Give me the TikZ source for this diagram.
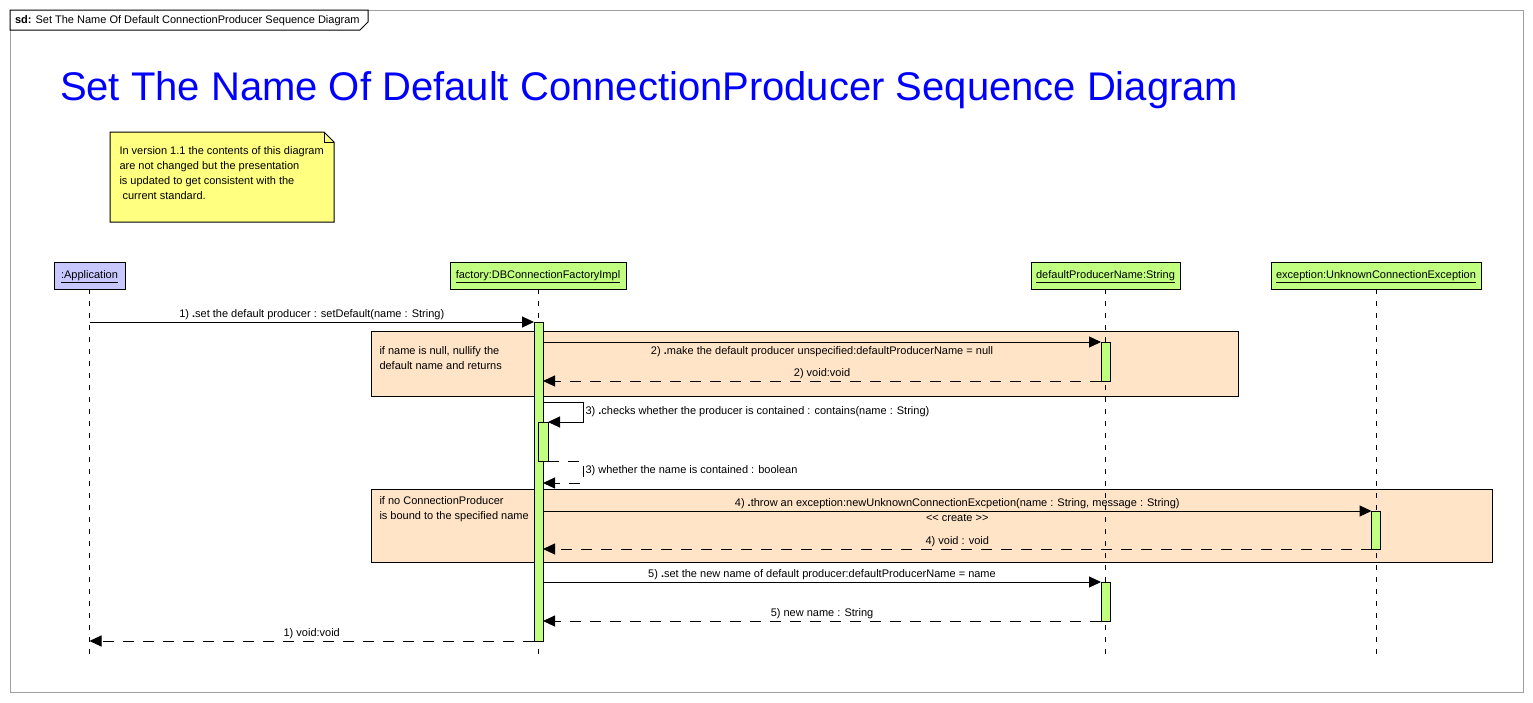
\documentclass[tikz,border=0pt]{standalone}
\usepackage{fontspec}
\setmainfont{Liberation Sans}
\usetikzlibrary{positioning,arrows.meta,calc}
\definecolor{lifeblue}{HTML}{C8C8FF}
\definecolor{lifegreen}{HTML}{C0FF80}
\definecolor{fragpeach}{HTML}{FFE4C8}
\definecolor{noteyellow}{HTML}{FFFF80}
\definecolor{framegray}{HTML}{A0A0A0}

\begin{document}
\begin{tikzpicture}[x=1pt, y=-1pt, line width=1pt, >={Triangle[length=12pt,width=11pt]},
  every node/.style={font=\fontsize{11}{13}\selectfont, inner sep=1.5pt},
  lifehead/.style={draw, minimum height=27pt, inner sep=0pt, outer sep=0pt, text height=8pt, text depth=2pt},
  actbar/.style={draw, fill=lifegreen, minimum width=9pt, inner sep=0pt, outer sep=0pt},
  lifeline/.style={dash pattern=on 5pt off 7pt},
  msg/.style={->},
  ret/.style={->, dash pattern=on 11pt off 9pt},
  frag/.style={draw, fill=fragpeach},
  fragtext/.style={anchor=north west, align=left, font=\fontsize{11}{15}\selectfont, inner sep=0pt}]
  \useasboundingbox (0,0) rectangle (1533,702);
  % frame and title
  \draw[framegray] (10,10) rectangle (1523,692);
  \draw[fill=white] (10,10) -- (368,10) -- (368,22) -- (360,30) -- (10,30) -- cycle;
  \node[anchor=west] (sdlabel) at (13,21) {\textbf{sd:} Set The Name Of Default ConnectionProducer Sequence Diagram};
  \node[anchor=west, text=blue, font=\fontsize{40}{44}\selectfont] (title) at (58,90)
      {Set The Name Of Default ConnectionProducer Sequence Diagram};
  % note
  \draw[fill=noteyellow] (110,132) -- (324,132) -- (334,142) -- (334,222) -- (110,222) -- cycle;
  \draw (324,132) -- (324,142) -- (334,142);
  \node[fragtext] (note) at (119,146.5) {In version 1.1 the contents of this diagram\\
      are not changed but the presentation\\is updated to get consistent with the\\\ current standard.};
  % combined fragments
  \draw[frag] (371,331) rectangle (1238,396);
  \node[fragtext] (guard1) at (379,346.5) {if name is null, nullify the\\default name and returns};
  \draw[frag] (371,489) rectangle (1492,562);
  \node[fragtext] (guard2) at (379,496) {if no ConnectionProducer\\is bound to the specified name};
  % lifeline heads
  \node[lifehead, fill=lifeblue, minimum width=71pt] (app) at (89.5,275.5) {\underline{:Application}};
  \node[lifehead, fill=lifegreen, minimum width=176pt] (factory) at (538,275.5) {\underline{factory:DBConnectionFactoryImpl}};
  \node[lifehead, fill=lifegreen, minimum width=149pt] (defname) at (1105.5,275.5) {\underline{defaultProducerName:String}};
  \node[lifehead, fill=lifegreen, minimum width=210pt] (exc) at (1376,275.5) {\underline{exception:UnknownConnectionException}};
  % lifelines
  \foreach \h in {app,factory,defname,exc}
    \draw[lifeline] (\h.south) -- (\h.south |- 0,657);
  % activation bars
  \node[actbar, minimum height=319pt] (factbar) at (538.5,481.5) {};
  \node[actbar, minimum height=39pt] (dpbar1) at (1105.5,361.5) {};
  \node[actbar, minimum width=10pt, minimum height=39pt] (selfbar) at (543,441.5) {};
  \node[actbar, minimum height=38pt] (excbar) at (1376,530) {};
  \node[actbar, minimum height=39pt] (dpbar2) at (1105.5,601.5) {};
  \coordinate (s3) at (583,402);
  \coordinate (r3) at (583,483);
  % messages
  \draw[msg] (app |- factbar.north) -- node[above] (m1) {1) \textbf{.}set the default producer : setDefault(name : String)} (factbar.north west);
  \draw[msg] (factbar.east |- dpbar1.north) -- node[below, inner sep=4pt] (m2) {2) \textbf{.}make the default producer unspecified:defaultProducerName = null} (dpbar1.north west);
  \draw[ret] (dpbar1.south west) -- node[above] (r2) {2) void:void} (factbar.east |- dpbar1.south);
  \draw[msg] (factbar.east |- s3) -- (s3) |- (selfbar.north east);
  \node[anchor=west, inner sep=0pt] (m3) at (585,412) {3) \textbf{.}checks whether the producer is contained : contains(name : String)};
  \draw[ret] (selfbar.south east) -| (r3) -- (factbar.east |- r3);
  \node[anchor=west, inner sep=0pt] (r3lbl) at (585,471) {3) whether the name is contained : boolean};
  \draw[msg] (factbar.east |- excbar.north) -- node[above] (m4) {4) \textbf{.}throw an exception:newUnknownConnectionExcpetion(name : String, message : String)}
      node[below, inner sep=3pt] (create) {{<}{<} create {>}{>}} (excbar.north west);
  \draw[ret] (excbar.south west) -- node[above] (r4) {4) void : void} (factbar.east |- excbar.south);
  \draw[msg] (factbar.east |- dpbar2.north) -- node[above] (m5) {5) \textbf{.}set the new name of default producer:defaultProducerName = name} (dpbar2.north west);
  \draw[ret] (dpbar2.south west) -- node[above] (r5) {5) new name : String} (factbar.east |- dpbar2.south);
  \draw[ret] (factbar.south west) -- node[above] (r1) {1) void:void} (app |- factbar.south);
\end{tikzpicture}
\end{document}
